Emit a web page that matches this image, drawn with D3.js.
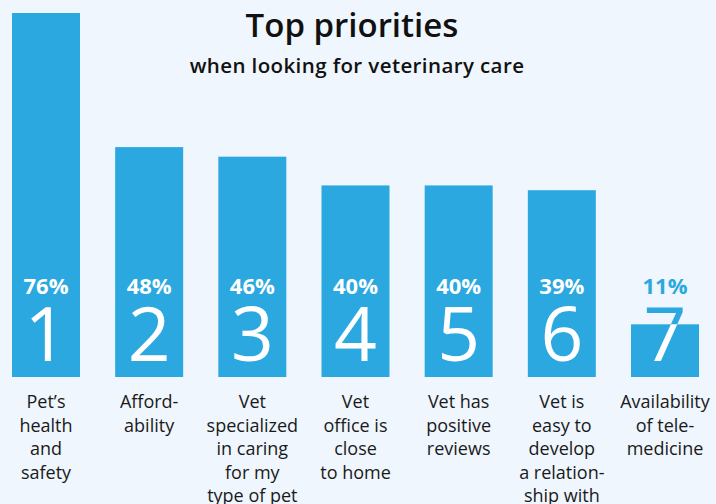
<!DOCTYPE html>
<html>
<head>
<meta charset="utf-8">
<script src="https://cdn.jsdelivr.net/npm/d3@7"></script>
<style>
  body { margin: 0; background: #eff6fd; }
  svg { display: block; font-family: "Open Sans", Lato, sans-serif; }
</style>
</head>
<body>
<div id="chart"></div>
<script>
// data
var ranks = ["1", "2", "3", "4", "5", "6", "7"];
var values = [76, 48, 46, 40, 40, 39, 11];
var labels = [
  ["Pet\u2019s", "health", "and", "safety"],
  ["Afford-", "ability"],
  ["Vet", "specialized", "in caring", "for my", "type of pet"],
  ["Vet", "office is", "close", "to home"],
  ["Vet has", "positive", "reviews"],
  ["Vet is", "easy to", "develop", "a relation-", "ship with"],
  ["Availability", "of tele-", "medicine"]
];

var blue = "#2ca8e1";
var width = 716, height = 504;
var baseline = 377;

var svg = d3.select("#chart").append("svg")
  .attr("width", width)
  .attr("height", height);

svg.append("rect").attr("width", width).attr("height", height).attr("fill", "#eff6fd");

var x = d3.scaleBand().domain(ranks).range([12, 699]).paddingInner(0.341).paddingOuter(0);
var y = d3.scaleLinear().domain([0, 76]).range([baseline, 13]);

var data = ranks.map(function (r, i) { return { rank: r, value: values[i], label: labels[i] }; });

// clip paths so the big digit is white inside the bar only
var defs = svg.append("defs");
defs.selectAll("clipPath").data(data).join("clipPath")
  .attr("id", function (d) { return "clip" + d.rank; })
  .append("rect")
  .attr("x", function (d) { return x(d.rank); })
  .attr("y", function (d) { return y(d.value); })
  .attr("width", x.bandwidth())
  .attr("height", function (d) { return baseline - y(d.value); });

var g = svg.selectAll("g.bar").data(data).join("g").attr("class", "bar");

g.append("rect")
  .attr("x", function (d) { return x(d.rank); })
  .attr("y", function (d) { return y(d.value); })
  .attr("width", x.bandwidth())
  .attr("height", function (d) { return baseline - y(d.value); })
  .attr("fill", blue);

var cx = function (d) { return x(d.rank) + x.bandwidth() / 2; };

// percent labels
g.append("text")
  .attr("x", cx)
  .attr("y", 294)
  .attr("text-anchor", "middle")
  .attr("font-size", 22)
  .attr("font-weight", 700)
  .attr("fill", function (d) { return y(d.value) < 270 ? "#fff" : blue; })
  .text(function (d) { return d.value + "%"; });

// big rank digits: blue underneath, white clipped to bar
g.append("text")
  .attr("x", cx)
  .attr("y", 361)
  .attr("text-anchor", "middle")
  .attr("font-size", 75)
  .attr("font-weight", 400)
  .attr("fill", blue)
  .text(function (d) { return d.rank; });

g.append("text")
  .attr("x", cx)
  .attr("y", 361)
  .attr("text-anchor", "middle")
  .attr("font-size", 75)
  .attr("font-weight", 400)
  .attr("fill", "#fff")
  .attr("clip-path", function (d) { return "url(#clip" + d.rank + ")"; })
  .text(function (d) { return d.rank; });

// category labels
g.append("text")
  .attr("text-anchor", "middle")
  .attr("font-size", 18)
  .attr("fill", "#1a1a1a")
  .selectAll("tspan")
  .data(function (d) { return d.label.map(function (l) { return { l: l, cx: cx(d) }; }); })
  .join("tspan")
  .attr("x", function (t) { return t.cx; })
  .attr("y", function (t, i) { return 408 + i * 23.5; })
  .text(function (t) { return t.l; });

// titles
svg.append("text")
  .attr("x", 352).attr("y", 37)
  .attr("text-anchor", "middle")
  .attr("font-size", 33)
  .attr("font-weight", 600)
  .attr("fill", "#111")
  .text("Top priorities");

svg.append("text")
  .attr("x", 357).attr("y", 73)
  .attr("text-anchor", "middle")
  .attr("font-size", 20.5)
  .attr("font-weight", 600)
  .attr("letter-spacing", 0.4)
  .attr("fill", "#111")
  .text("when looking for veterinary care");
</script>
</body>
</html>
